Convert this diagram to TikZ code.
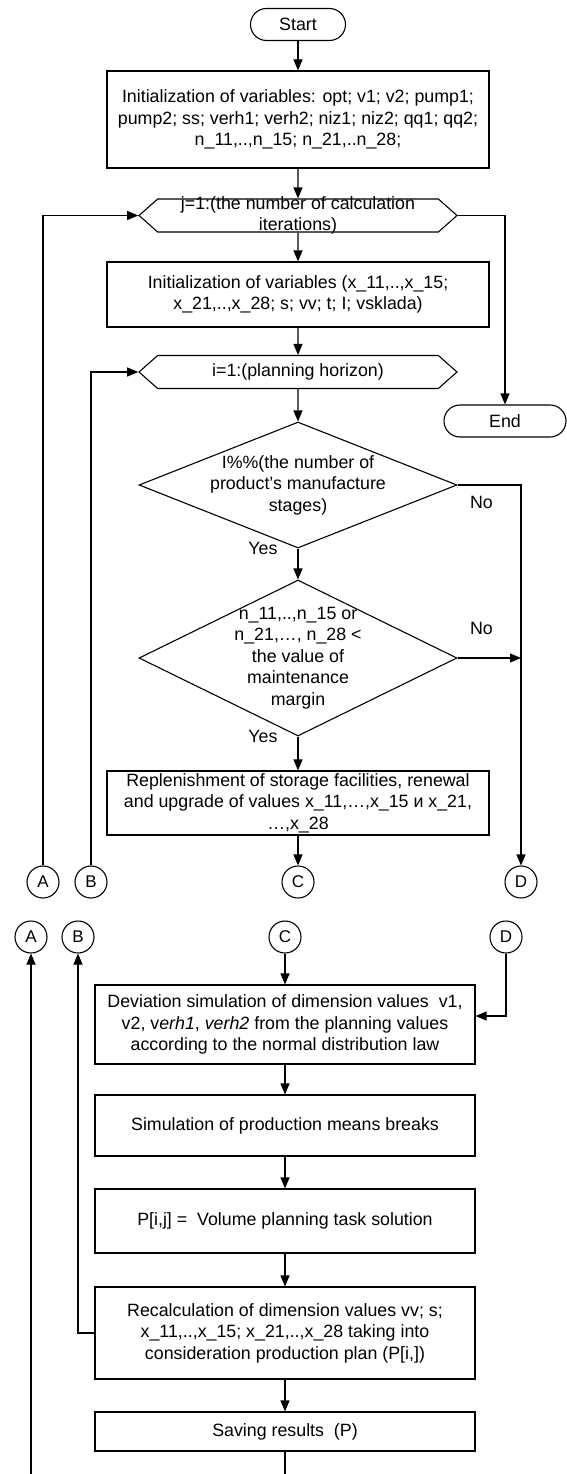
\documentclass[tikz,border=0pt]{standalone}
\usepackage{fontspec}
\setmainfont{Liberation Sans}
\usepackage{tikz}
\usetikzlibrary{arrows.meta,positioning,shapes.geometric,shapes.symbols}
\tikzset{
  term/.style={rectangle,rounded corners=16pt,draw,minimum height=32pt,inner sep=0pt},
  proc/.style={rectangle,draw,align=center,minimum width=382pt,inner xsep=0pt,inner ysep=-12pt},
  loophead/.style={signal,signal to=west and east,signal pointer angle=83,draw,align=center,minimum width=318pt,minimum height=33pt,inner ysep=-20pt},
  decision/.style={diamond,draw,align=center,minimum width=318pt,inner sep=-25pt},
  conn/.style={circle,draw,minimum size=32pt,inner sep=0pt,font=\fontsize{17}{20}\selectfont},
  answer/.style={inner sep=0pt},
  flow/.style={-{Triangle[length=11pt,width=9pt]},line width=1.1pt},
  plainline/.style={line width=1.1pt}
}
\begin{document}
\begin{tikzpicture}[x=1pt,y=-1pt,line width=1.1pt,font=\fontsize{17.8}{21.5}\selectfont]
\useasboundingbox[fill=white] (0,0) rectangle (567,1474);
\node[term,minimum width=95pt] (start) at (298,24.5) {Start};
\node[proc,minimum height=97pt] (init) at (298,119.5) {Initialization of variables: opt; v1; v2; pump1;\\pump2; ss; verh1; verh2; niz1; niz2; qq1; qq2;\\n\_11,..,n\_15; n\_21,..n\_28;};
\node[loophead] (loopj) at (298,215.5) {j=1:(the number of calculation\\iterations)};
\node[proc,minimum height=65pt] (initx) at (298,294.5) {Initialization of variables (x\_11,..,x\_15;\\x\_21,..,x\_28; s; vv; t; I; vsklada)};
\node[loophead] (loopi) at (298,372) {i=1:(planning horizon)};
\node[term,minimum width=122pt] (end) at (505,421) {End};
\node[decision,aspect=2.5,minimum height=126pt] (stage) at (298,485) {I\%\%(the number of\\product’s manufacture\\stages)};
\node[decision,aspect=2,minimum height=156pt] (margin) at (298,658) {n\_11,..,n\_15 or\\n\_21,…, n\_28 <\\the value of\\maintenance\\margin};
\node[proc,minimum height=64pt] (refill) at (298,803) {Replenishment of storage facilities, renewal\\and upgrade of values x\_11,…,x\_15 и x\_21,\\…,x\_28};
\node[answer,left=20pt of stage.south] (yes1) {Yes};
\node[answer,right=12pt of stage.east,yshift=-17pt] (no1) {No};
\node[answer,left=20pt of margin.south] (yes2) {Yes};
\node[answer,right=12pt of margin.east,yshift=30pt] (no2) {No};
\node[conn] (a1) at (43,882) {A};
\node[conn] (b1) at (91,882) {B};
\node[conn] (c1) at (298,882) {C};
\node[conn] (d1) at (521,882) {D};
\node[conn] (a2) at (31,937) {A};
\node[conn] (b2) at (78,937) {B};
\node[conn] (c2) at (285,937) {C};
\node[conn] (d2) at (506,937) {D};
\node[proc,minimum width=380pt,minimum height=79pt] (deviate) at (285,1024.5) {Deviation simulation of dimension values~ v1,\\v2, v\textit{erh1}, \textit{verh2} from the planning values\\according to the normal distribution law};
\node[proc,minimum width=380pt,minimum height=61pt] (breaks) at (285,1125.5) {Simulation of production means breaks};
\node[proc,minimum width=380pt,minimum height=64pt] (solve) at (285,1221) {P[i,j] =~ Volume planning task solution};
\node[proc,minimum width=380pt,minimum height=92pt] (recalc) at (285,1333) {Recalculation of dimension values vv; s;\\x\_11,..,x\_15; x\_21,..,x\_28 taking into\\consideration production plan (P[i,])};
\node[proc,minimum width=380pt,minimum height=39pt] (save) at (285,1431.5) {Saving results~ (P)};
\coordinate (abottom) at (31,1474);
\coordinate (savebottom) at (285,1474);
\draw[flow] (start) -- (init);
\draw[flow] (init) -- (loopj);
\draw[flow] (loopj) -- (initx);
\draw[flow] (initx) -- (loopi);
\draw[flow] (loopi) -- (stage);
\draw[flow] (stage) -- (margin);
\draw[flow] (margin) -- (refill);
\draw[flow] (refill) -- (c1);
\draw[flow] (loopj.east) -| (end);
\draw[flow] (stage.east) -| (d1);
\draw[flow] (margin.east) -- (margin.east -| d1);
\draw[flow] (a1) |- (loopj.west);
\draw[flow] (b1) |- (loopi.west);
\draw[flow] (c2) -- (deviate);
\draw[flow] (d2) |- ([yshift=8.5pt]deviate.east);
\draw[flow] (deviate) -- (breaks);
\draw[flow] (breaks) -- (solve);
\draw[flow] (solve) -- (recalc);
\draw[flow] (recalc) -- (save);
\draw[plainline] (save) -- (savebottom);
\draw[flow] (recalc.west) -| (b2);
\draw[flow] (abottom) -- (a2);
\end{tikzpicture}
\end{document}
